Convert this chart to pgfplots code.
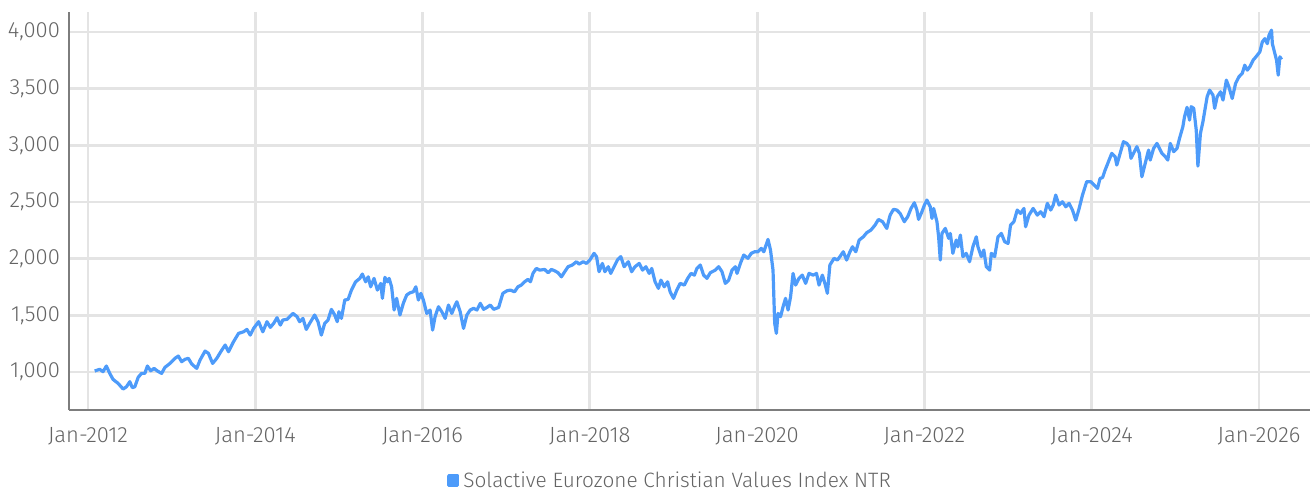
\documentclass[border=0pt]{standalone}
\usepackage{pgfplots}
\pgfplotsset{compat=1.18}
\usepackage{fontspec}
\setmainfont{Fira Sans}[UprightFont=* Light]
\definecolor{linec}{RGB}{77,155,250}
\definecolor{gridc}{RGB}{228,228,228}
\definecolor{axc}{RGB}{125,125,125}
\definecolor{txt}{RGB}{100,100,100}
\begin{document}
\begin{tikzpicture}
\useasboundingbox (-34.5pt,-42pt) rectangle (622.5pt,205pt);
\begin{axis}[
  at={(0pt,0pt)}, anchor=south west,
  scale only axis, width=620.5pt, height=199pt,
  xmin=2011.773, xmax=2026.61, ymin=665, ymax=4176,
  axis x line*=bottom, axis y line*=left,
  axis line style={axc, line width=1pt, -},
  xtick={2012,2014,2016,2018,2020,2022,2024,2026},
  xticklabels={Jan-2012,Jan-2014,Jan-2016,Jan-2018,Jan-2020,Jan-2022,Jan-2024,Jan-2026},
  ytick={1000,1500,2000,2500,3000,3500,4000},
  yticklabel style={/pgf/number format/fixed, /pgf/number format/1000 sep={,}, /pgf/number format/assume math mode=true, xshift=-1pt},
  major tick length=0pt,
  grid=major, major grid style={gridc, line width=1.4pt},
  tick label style={font=\fontsize{11}{13}\selectfont, text=txt},
  xticklabel style={yshift=-5pt},
  legend style={at={(0.485,-0.178)}, anchor=center, draw=none, fill=none,
    font=\fontsize{10.4}{12}\selectfont, text=txt, inner sep=0pt},
  legend image code/.code={\fill[linec] (0.5pt,-2.4pt) rectangle (5.1pt,2.4pt);},
]
\addplot[linec, line width=1.6pt, line join=round] coordinates {
(2012.08,1009)(2012.14,1024)(2012.18,1003)(2012.22,1053)(2012.26,988)(2012.30,935)
(2012.36,900)(2012.42,850)(2012.46,870)(2012.50,915)(2012.53,862)(2012.56,870)
(2012.60,953)(2012.64,988)(2012.68,988)(2012.71,1053)(2012.75,1011)(2012.79,1032)
(2012.83,1009)(2012.88,988)(2012.92,1041)(2012.98,1076)(2013.04,1121)(2013.08,1141)
(2013.12,1091)(2013.16,1112)(2013.20,1121)(2013.24,1071)(2013.30,1032)(2013.34,1106)
(2013.40,1185)(2013.44,1165)(2013.49,1076)(2013.54,1121)(2013.60,1194)(2013.64,1238)
(2013.68,1179)(2013.74,1267)(2013.80,1341)(2013.86,1355)(2013.90,1376)(2013.94,1326)
(2013.98,1385)(2014.04,1444)(2014.09,1355)(2014.14,1444)(2014.18,1394)(2014.22,1429)
(2014.26,1479)(2014.30,1414)(2014.33,1459)(2014.38,1465)(2014.45,1517)(2014.50,1488)
(2014.53,1444)(2014.57,1473)(2014.61,1376)(2014.65,1429)(2014.71,1503)(2014.75,1444)
(2014.79,1326)(2014.83,1429)(2014.87,1459)(2014.91,1553)(2014.95,1503)(2014.98,1444)
(2015.00,1532)(2015.03,1473)(2015.07,1635)(2015.11,1641)(2015.15,1723)(2015.20,1796)
(2015.25,1826)(2015.28,1864)(2015.32,1796)(2015.35,1840)(2015.38,1752)(2015.42,1826)
(2015.46,1723)(2015.50,1782)(2015.52,1650)(2015.55,1835)(2015.58,1796)(2015.60,1826)
(2015.63,1752)(2015.66,1547)(2015.69,1650)(2015.73,1503)(2015.77,1606)(2015.81,1679)
(2015.85,1699)(2015.89,1708)(2015.92,1752)(2015.95,1635)(2015.98,1694)(2016.01,1635)
(2016.05,1517)(2016.09,1547)(2016.12,1370)(2016.15,1488)(2016.19,1576)(2016.23,1532)
(2016.27,1473)(2016.31,1591)(2016.35,1517)(2016.39,1591)(2016.41,1620)(2016.45,1532)
(2016.49,1385)(2016.53,1503)(2016.57,1547)(2016.61,1562)(2016.65,1547)(2016.69,1606)
(2016.73,1553)(2016.77,1570)(2016.81,1591)(2016.85,1553)(2016.91,1570)(2016.93,1620)
(2016.96,1694)(2017.01,1717)(2017.05,1723)(2017.10,1708)(2017.14,1752)(2017.18,1767)
(2017.22,1796)(2017.26,1817)(2017.29,1796)(2017.32,1870)(2017.36,1914)(2017.40,1899)
(2017.46,1905)(2017.50,1876)(2017.54,1905)(2017.58,1893)(2017.62,1876)(2017.66,1840)
(2017.70,1885)(2017.74,1929)(2017.79,1944)(2017.84,1973)(2017.87,1952)(2017.92,1973)
(2017.96,1958)(2018.00,1988)(2018.05,2047)(2018.08,2018)(2018.11,1885)(2018.15,1958)
(2018.18,1885)(2018.22,1929)(2018.25,1870)(2018.29,1929)(2018.33,1988)(2018.37,2018)
(2018.41,1929)(2018.46,1973)(2018.50,1885)(2018.54,1929)(2018.59,1958)(2018.63,1899)
(2018.67,1929)(2018.71,1870)(2018.74,1914)(2018.78,1796)(2018.82,1738)(2018.85,1811)
(2018.89,1752)(2018.93,1796)(2018.96,1708)(2019.00,1650)(2019.04,1723)(2019.08,1782)
(2019.13,1767)(2019.17,1826)(2019.21,1870)(2019.25,1855)(2019.28,1914)(2019.32,1944)
(2019.36,1855)(2019.40,1826)(2019.44,1876)(2019.50,1899)(2019.54,1929)(2019.58,1885)
(2019.62,1782)(2019.66,1811)(2019.70,1899)(2019.74,1929)(2019.76,1870)(2019.80,1958)
(2019.84,2032)(2019.89,2003)(2019.93,2047)(2019.97,2061)(2020.01,2061)(2020.05,2091)
(2020.08,2061)(2020.13,2170)(2020.16,2076)(2020.19,1899)(2020.21,1429)(2020.23,1341)
(2020.25,1517)(2020.28,1488)(2020.31,1576)(2020.34,1650)(2020.37,1547)(2020.40,1664)
(2020.43,1870)(2020.46,1767)(2020.50,1826)(2020.54,1855)(2020.58,1782)(2020.62,1870)
(2020.67,1855)(2020.71,1870)(2020.74,1767)(2020.78,1855)(2020.81,1782)(2020.84,1694)
(2020.87,1944)(2020.92,2003)(2020.96,1988)(2020.99,2018)(2021.03,2061)(2021.07,1988)
(2021.11,2061)(2021.14,2105)(2021.18,2061)(2021.22,2164)(2021.27,2193)(2021.31,2229)
(2021.36,2252)(2021.41,2296)(2021.45,2346)(2021.50,2326)(2021.55,2267)(2021.59,2384)
(2021.63,2435)(2021.67,2429)(2021.71,2399)(2021.76,2326)(2021.80,2370)(2021.84,2443)
(2021.88,2493)(2021.91,2429)(2021.93,2346)(2021.97,2414)(2022.00,2473)(2022.03,2517)
(2022.07,2458)(2022.09,2355)(2022.11,2443)(2022.15,2326)(2022.17,2193)(2022.19,1988)
(2022.21,2223)(2022.25,2267)(2022.29,2179)(2022.31,2223)(2022.34,2047)(2022.38,2164)
(2022.40,2105)(2022.43,2208)(2022.46,2018)(2022.50,2047)(2022.54,1973)(2022.58,2105)
(2022.62,2193)(2022.64,2105)(2022.68,2018)(2022.71,2076)(2022.74,1929)(2022.78,1899)
(2022.80,2047)(2022.84,2018)(2022.88,2193)(2022.92,2223)(2022.96,2149)(2023.00,2135)
(2023.03,2296)(2023.07,2326)(2023.11,2429)(2023.15,2399)(2023.19,2443)(2023.21,2282)
(2023.25,2384)(2023.30,2443)(2023.35,2384)(2023.39,2414)(2023.43,2370)(2023.47,2488)
(2023.51,2429)(2023.54,2473)(2023.57,2561)(2023.61,2473)(2023.65,2502)(2023.69,2458)
(2023.73,2488)(2023.77,2429)(2023.81,2340)(2023.85,2443)(2023.89,2561)(2023.94,2679)
(2023.99,2679)(2024.03,2649)(2024.07,2620)(2024.10,2708)(2024.13,2715)(2024.16,2781)
(2024.20,2855)(2024.24,2929)(2024.28,2900)(2024.30,2826)(2024.34,2929)(2024.38,3032)
(2024.42,3017)(2024.45,2988)(2024.47,2885)(2024.50,2929)(2024.54,2988)(2024.57,2929)
(2024.60,2723)(2024.64,2841)(2024.68,2958)(2024.70,2870)(2024.74,2973)(2024.78,3017)
(2024.81,2973)(2024.84,2929)(2024.88,2900)(2024.91,2870)(2024.94,3017)(2024.98,2944)
(2025.02,2973)(2025.05,3061)(2025.09,3164)(2025.11,3252)(2025.14,3335)(2025.17,3222)
(2025.19,3341)(2025.22,3326)(2025.25,3134)(2025.27,2817)(2025.30,3105)(2025.33,3208)
(2025.35,3296)(2025.38,3428)(2025.41,3487)(2025.45,3443)(2025.47,3326)(2025.50,3428)
(2025.54,3472)(2025.57,3399)(2025.61,3575)(2025.64,3516)(2025.68,3413)(2025.72,3545)
(2025.76,3604)(2025.80,3634)(2025.83,3707)(2025.86,3663)(2025.89,3692)(2025.93,3751)
(2025.97,3786)(2026.01,3824)(2026.04,3912)(2026.07,3941)(2026.10,3897)(2026.12,3971)
(2026.15,4016)(2026.16,3897)(2026.19,3809)(2026.21,3751)(2026.23,3619)(2026.25,3781)
(2026.27,3757)
};
\addlegendentry{Solactive Eurozone Christian Values Index NTR}
\end{axis}
\end{tikzpicture}
\end{document}
